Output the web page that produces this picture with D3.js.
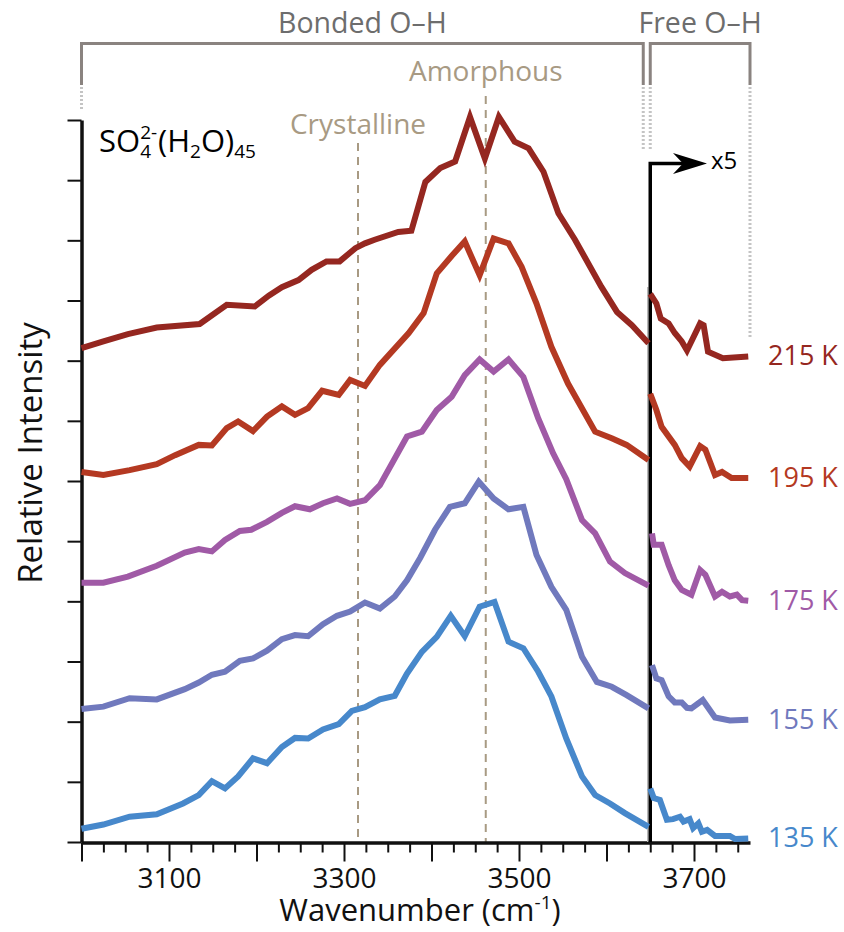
<!DOCTYPE html>
<html>
<head>
<meta charset="utf-8">
<title>SO4 2- (H2O)45 spectra</title>
<script src="https://cdn.jsdelivr.net/npm/d3@7"></script>
<style>
  body { margin: 0; background: #fff; }
  text { font-family: "Open Sans", "Noto Sans", sans-serif; }
</style>
</head>
<body>
<svg width="844" height="932"></svg>
<script>
// temperatures, colours
var temps = ["215 K", "195 K", "175 K", "155 K", "135 K"];
var colors = ["#952720", "#b43922", "#a05aa6", "#7079bd", "#4788cb"];

// bonded O-H region (cm-1 / relative intensity, offset stacked)
var wn215b = [3000,3025,3053,3086,3135,3166,3198,3214,3229,3248,3263,3280,3295,3313,3324,3335,3362,3377,3393,3410,3427,3444,3461,3477,3495,3511,3528,3545,3564,3594,3612,3629,3648];
var i215b  = [82.1,83.2,84.4,85.5,86.1,89.3,89.0,90.8,92.2,93.4,95.1,96.5,96.5,98.7,99.5,100.1,101.4,101.6,109.7,112.0,113.1,120.5,113.6,120.5,116.4,115.3,111.4,104.5,100.1,92.3,88.1,85.9,82.9];
var wn195b = [3000,3025,3055,3086,3107,3134,3149,3166,3179,3196,3212,3229,3244,3259,3275,3294,3307,3324,3341,3374,3391,3406,3423,3438,3455,3471,3488,3503,3520,3537,3556,3587,3606,3623,3648];
var i195b  = [61.5,61.0,61.8,62.8,64.3,66.0,65.9,68.8,69.9,68.3,70.7,72.4,71.0,72.1,75.0,74.3,76.8,75.8,79.3,84.6,87.9,94.5,97.4,99.8,94.2,100.3,99.5,95.6,89.5,82.3,76.2,68.2,67.1,66.0,63.5];
var wn175b = [3000,3025,3053,3086,3118,3134,3149,3164,3181,3194,3212,3229,3244,3261,3276,3292,3307,3324,3341,3372,3389,3406,3423,3438,3455,3471,3488,3505,3522,3539,3554,3572,3587,3604,3621,3648];
var i175b  = [43.1,43.1,44.1,45.9,48.1,48.7,48.3,50.2,51.7,51.9,53.2,54.7,55.8,55.3,56.3,57.1,56.2,56.8,59.3,67.4,68.2,71.8,74.0,77.6,80.2,78.2,80.2,77.3,70.4,64.6,60.3,53.5,51.3,46.6,44.7,42.6];
var wn155b = [3000,3025,3055,3086,3118,3134,3149,3164,3181,3196,3212,3229,3244,3259,3276,3292,3307,3324,3341,3358,3372,3387,3404,3421,3438,3454,3471,3488,3505,3520,3537,3554,3572,3589,3606,3623,3648];
var i155b  = [22.1,22.5,23.9,23.7,25.4,26.5,27.8,28.3,30.1,30.5,31.8,33.7,34.4,34.2,36.2,37.6,38.3,39.8,38.8,40.8,43.5,47.2,51.9,55.7,56.3,59.9,57.1,55.3,55.7,47.7,42.4,38.6,30.8,26.6,25.8,24.4,22.2];
var wn135b = [3000,3025,3055,3086,3116,3134,3149,3164,3179,3196,3212,3229,3244,3259,3276,3294,3309,3324,3341,3358,3372,3389,3406,3422,3438,3455,3472,3488,3505,3522,3537,3554,3572,3587,3604,3621,3648];
var i135b  = [2.2,2.9,4.2,4.6,6.4,7.8,10.1,8.9,10.9,13.9,13.1,15.8,17.3,17.2,18.7,19.6,21.8,22.4,23.7,24.3,28.0,31.6,34.1,37.6,34.2,39.1,39.9,33.3,32.2,28.3,24.2,17.2,10.9,7.8,6.4,4.8,2.5];

// free O-H region (shown x5)
var wn215f = [3650,3657,3662,3671,3678,3686,3692,3707,3711,3716,3733,3762];
var i215f  = [91.1,89.5,87.0,86.2,84.6,83.2,81.7,86.2,85.9,81.5,80.4,80.7];
var wn195f = [3650,3657,3663,3678,3686,3695,3707,3713,3724,3732,3743,3762];
var i195f  = [74.5,71.8,69.0,66.0,63.8,62.4,65.8,65.2,61.0,61.5,60.5,60.5];
var wn175f = [3652,3654,3663,3671,3678,3686,3697,3707,3713,3724,3732,3741,3749,3755,3762];
var i175f  = [51.3,49.4,49.4,46.0,43.5,41.9,41.1,45.2,44.4,40.8,41.6,40.8,41.1,40.2,40.1];
var wn155f = [3652,3657,3663,3671,3678,3686,3692,3697,3710,3724,3741,3762];
var i155f  = [29.4,27.2,26.9,24.2,23.2,23.2,22.3,22.2,23.6,20.7,20.2,20.3];
var wn135f = [3650,3654,3661,3669,3676,3684,3688,3695,3699,3705,3709,3715,3724,3741,3747,3762];
var i135f  = [8.9,7.3,7.0,3.7,3.8,4.2,3.4,3.8,2.3,3.1,1.7,2.0,1.0,1.0,0.5,0.6];

var xLabels = [3100, 3300, 3500, 3700];
var markers = [{name: "Crystalline", wn: 3316}, {name: "Amorphous", wn: 3462}];
var regions = [{name: "Bonded O\u2013H", from: 3000, to: 3642}, {name: "Free O\u2013H", from: 3650, to: 3764}];
var breakAt = 3650;

var svg = d3.select("svg");
var x = d3.scaleLinear().domain([3000, 3764]).range([81.5, 750]);
var y = d3.scaleLinear().domain([0, 120]).range([842, 120]);

var series = [
  {b: [wn215b, i215b], f: [wn215f, i215f]},
  {b: [wn195b, i195b], f: [wn195f, i195f]},
  {b: [wn175b, i175b], f: [wn175f, i175f]},
  {b: [wn155b, i155b], f: [wn155f, i155f]},
  {b: [wn135b, i135b], f: [wn135f, i135f]}
];

var line = d3.line().x(function(d){ return x(d[0]); }).y(function(d){ return y(d[1]); });

// region brackets
var grey = "#8a8380";
var br = svg.append("g");
regions.forEach(function(r, i){
  var x0 = x(r.from), x1 = x(r.to);
  br.append("path")
    .attr("d", "M" + x0 + ",85V43.5H" + x1 + "V85")
    .attr("fill", "none").attr("stroke", grey).attr("stroke-width", 3);
  br.append("text").attr("x", (x0 + x1) / 2).attr("y", 33)
    .attr("text-anchor", "middle").attr("font-size", 28.5).attr("fill", "#6d6d6d")
    .text(r.name);
});
// dotted guides below the brackets
var dots = [[regions[0].from, 110], [regions[0].to, 150], [regions[1].from, 150], [regions[1].to, 337]];
dots.forEach(function(d){
  br.append("line").attr("x1", x(d[0])).attr("x2", x(d[0]))
    .attr("y1", 87).attr("y2", d[1])
    .attr("stroke", "#c4c4c4").attr("stroke-width", 3).attr("stroke-dasharray", "2,2");
});

// crystalline / amorphous markers
var tan = "#a89a83";
var mTop = [143, 96], mLab = [134, 81];
markers.forEach(function(m, i){
  svg.append("line").attr("x1", x(m.wn)).attr("x2", x(m.wn))
    .attr("y1", mTop[i]).attr("y2", 842)
    .attr("stroke", tan).attr("stroke-width", 2).attr("stroke-dasharray", "8,6");
  svg.append("text").attr("x", x(m.wn)).attr("y", mLab[i])
    .attr("text-anchor", "middle").attr("font-size", 28).attr("fill", tan)
    .text(m.name);
});

// axes
var xAxis = svg.append("g").attr("transform", "translate(0,842.5)")
  .call(d3.axisBottom(x).tickValues(d3.range(3000, 3751, 25)).tickSizeOuter(0)
    .tickFormat(function(d){ return xLabels.indexOf(d) >= 0 ? d : ""; }));
xAxis.select(".domain").attr("stroke-width", 3.5).attr("stroke", "#111");
xAxis.selectAll(".tick line").attr("stroke-width", 2).attr("stroke", "#111")
  .attr("y2", function(d){ return d % 100 === 0 ? 19 : 10; });
xAxis.selectAll(".tick text").attr("y", 45).attr("dy", null)
  .attr("font-size", 28).attr("font-family", "Open Sans").attr("fill", "#111");

var yAxis = svg.append("g").attr("transform", "translate(81.5,0)")
  .call(d3.axisLeft(y).tickValues(d3.range(0, 121, 10)).tickSize(14).tickSizeOuter(0).tickFormat(""));
yAxis.select(".domain").attr("stroke-width", 3.5).attr("stroke", "#111");
yAxis.selectAll(".tick line").attr("stroke-width", 2).attr("stroke", "#111");

svg.append("text").attr("transform", "translate(42,453) rotate(-90)")
  .attr("text-anchor", "middle").attr("font-size", 33).attr("fill", "#111")
  .text("Relative Intensity");

var xt = svg.append("text").attr("x", 420).attr("y", 921)
  .attr("text-anchor", "middle").attr("font-size", 31).attr("fill", "#111");
xt.append("tspan").text("Wavenumber (cm");
xt.append("tspan").attr("font-size", 19).attr("dy", -12).text("-1");
xt.append("tspan").attr("dy", 12).text(")");

// break line with x5 arrow
var xb = x(breakAt);
svg.append("line").attr("x1", xb - 2.5).attr("x2", xb - 2.5).attr("y1", 287).attr("y2", 842)
  .attr("stroke", "#b8b8b8").attr("stroke-width", 1.5);
svg.append("path").attr("d", "M" + xb + ",842V163.5H690")
  .attr("fill", "none").attr("stroke", "#000").attr("stroke-width", 3.5);
svg.append("path")
  .attr("d", "M707,163.5L673,153L683,163.5L673,174Z").attr("fill", "#000");
svg.append("text").attr("x", 711).attr("y", 169).attr("font-size", 24).attr("fill", "#000").text("x5");

// curves
series.forEach(function(s, i){
  [s.b, s.f].forEach(function(part){
    svg.append("path").datum(d3.zip(part[0], part[1]))
      .attr("d", line).attr("fill", "none")
      .attr("stroke", colors[i]).attr("stroke-width", 6)
      .attr("stroke-linejoin", "miter").attr("stroke-miterlimit", 6);
  });
  var last = s.f[1][s.f[1].length - 1];
  svg.append("text").attr("x", 768).attr("y", y(last) + 9)
    .attr("font-size", 27).attr("fill", colors[i]).text(temps[i]);
});

// formula label, one text with stacked super/subscript
var ft = svg.append("text").attr("x", 99).attr("y", 152).attr("font-size", 31).attr("fill", "#000");
ft.append("tspan").text("SO");
var sup = ft.append("tspan").attr("font-size", 19).attr("dy", -13).text("2-");
var supW = sup.node().getComputedTextLength();
var sub4 = ft.append("tspan").attr("font-size", 19).attr("dx", -supW).attr("dy", 19).text("4");
var subW = sub4.node().getComputedTextLength();
ft.append("tspan").attr("dx", Math.max(0, supW - subW) + 1).attr("dy", -6).text("(H");
ft.append("tspan").attr("font-size", 19).attr("dy", 6).text("2");
ft.append("tspan").attr("dy", -6).text("O)");
ft.append("tspan").attr("font-size", 19).attr("dy", 6).text("45");
</script>
</body>
</html>
